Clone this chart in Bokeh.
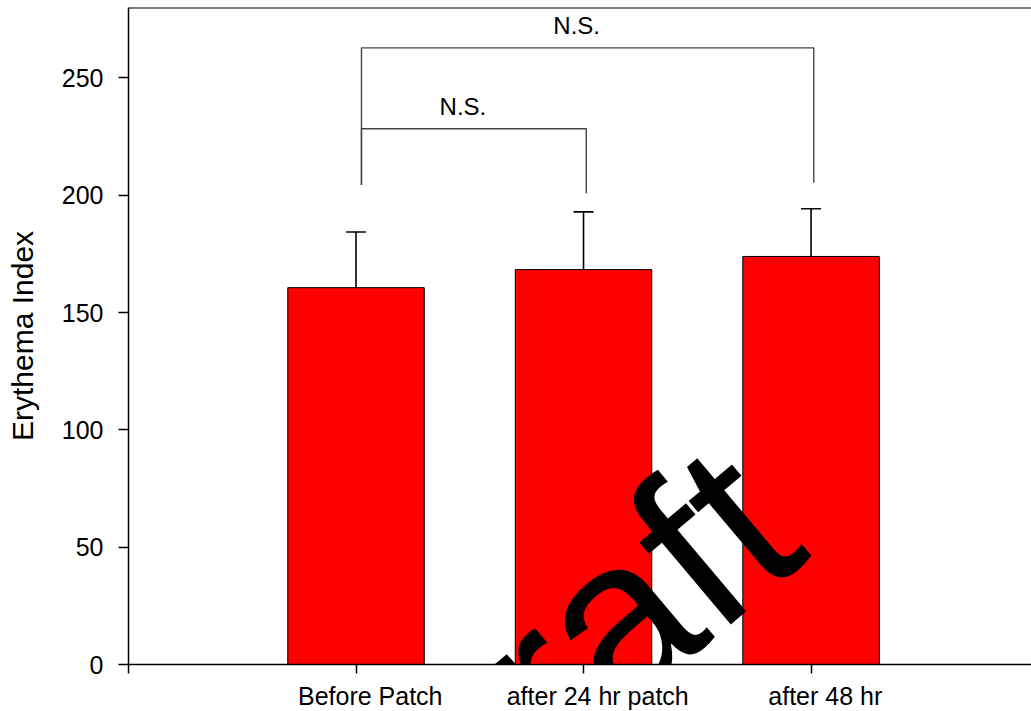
from bokeh.plotting import figure
from bokeh.models import (Range1d, FixedTicker, Whisker, TeeHead, ColumnDataSource,
                          Span, Label, LinearAxis)
from bokeh.core.properties import value
from bokeh.embed import file_html
from bokeh.resources import INLINE

# ---- data ----
categories = ["Before Patch", "after 24 hr patch", "after 48 hr"]
means = [160.6, 168.3, 173.9]
errors = [23.7, 24.6, 20.3]
y_ticks = [0, 50, 100, 150, 200, 250]
# significance brackets: (left group, right group), bracket height, foot heights
bracket_pairs = [(1, 2), (1, 3)]
bracket_tops = [228.3, 262.8]
bracket_feet = [(204.4, 200.8), (204.4, 205.3)]
bracket_labels = ["N.S.", "N.S."]

FONT = "Liberation Sans"
xs = list(range(1, len(categories) + 1))

p = figure(frame_width=903, frame_height=657,
           x_range=Range1d(0, 3.969), y_range=Range1d(0, 280),
           output_backend="svg", toolbar_location=None,
           min_border_top=7, min_border_right=0, min_border_left=128, min_border_bottom=0)
p.outline_line_color = None
p.xgrid.visible = False
p.ygrid.visible = False
p.background_fill_color = "white"

src = ColumnDataSource(dict(x=xs, top=means,
                            upper=[m + e for m, e in zip(means, errors)]))
p.vbar(x="x", top="top", width=0.6, source=src,
       fill_color="#FF0000", line_color="black", line_width=1)
p.add_layout(Whisker(source=src, base="x", lower="top", upper="upper",
                     line_color="black", line_width=1.6,
                     upper_head=TeeHead(size=20, line_color="black", line_width=1.6),
                     lower_head=None))

# brackets
off = 0.024
bx, by = [], []
for (a, b), t, (fa, fb) in zip(bracket_pairs, bracket_tops, bracket_feet):
    bx.append([a + off, a + off, b + off * 0.5, b + off * 0.5])
    by.append([fa, t, t, fb])
p.multi_line(xs=bx, ys=by, line_color="#444444", line_width=1.4)
p.text(x=[(a + b) / 2 - 0.03 for a, b in bracket_pairs], y=bracket_tops,
       text=bracket_labels, text_font=value(FONT), text_font_size="24px",
       text_align="center", text_baseline="alphabetic", y_offset=-22, text_color="black")

# top frame line
p.add_layout(Span(location=280, dimension="width", line_color="black", line_width=2))

# axes: tick marks at the bar centres
xa = p.xaxis[0]
xa.ticker = FixedTicker(ticks=[0] + xs)
xa.major_label_overrides = {t: "" for t in [0] + xs}
xa.major_label_text_font_size = "0px"
xa.major_label_standoff = 0
xa.major_tick_in = 0
xa.major_tick_out = 9
xa.minor_tick_line_color = None
xa.axis_line_width = 1.5
xa.major_tick_line_width = 1.5

# category labels (set slightly right of the ticks, as in the original)
label_shift = 0.0625
lab_ticks = [x + label_shift for x in xs]
xl = LinearAxis(ticker=FixedTicker(ticks=lab_ticks),
                major_label_overrides={t: c for t, c in zip(lab_ticks, categories)},
                axis_line_color=None, major_tick_line_color=None,
                minor_tick_line_color=None, major_tick_out=0, major_tick_in=0,
                major_label_standoff=8, major_label_text_font=FONT,
                major_label_text_font_size="25px", major_label_text_color="black")
p.add_layout(xl, "below")

ya = p.yaxis[0]
ya.ticker = FixedTicker(ticks=y_ticks)
ya.major_tick_in = 0
ya.major_tick_out = 10
ya.minor_tick_line_color = None
ya.axis_line_width = 1.5
ya.major_tick_line_width = 1.5
ya.major_label_text_font = FONT
ya.major_label_text_font_size = "25px"
ya.major_label_text_color = "black"
ya.major_label_standoff = 15
ya.axis_label = "Erythema Index"
ya.axis_label_text_font = FONT
ya.axis_label_text_font_size = "30px"
ya.axis_label_text_font_style = "normal"
ya.axis_label_text_color = "black"
ya.axis_label_standoff = 20

# watermark
p.add_layout(Label(x=1.108, y=-64.3, text="Draft", angle=0.70, angle_units="rad",
                   text_font=FONT, text_font_size="230px", text_color="black",
                   text_baseline="alphabetic", text_align="left"))

open("out.html", "w").write(file_html(p, INLINE))
